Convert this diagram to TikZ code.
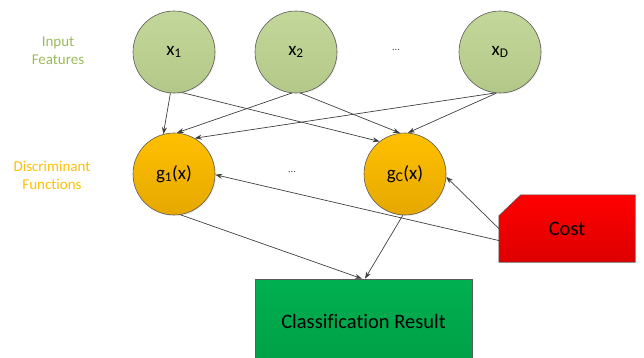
\documentclass[tikz,border=0pt]{standalone}
\usepackage{fontspec}
\setmainfont{Carlito}[Ligatures=NoCommon]
\usepackage{xcolor}
\usetikzlibrary{arrows.meta,backgrounds,shadows}
\definecolor{feat}{HTML}{C4D79B}
\definecolor{featdk}{HTML}{B3C888}
\definecolor{featlbl}{HTML}{9BBB59}
\definecolor{disc}{HTML}{FFC000}
\definecolor{discdk}{HTML}{E6A800}
\definecolor{costc}{HTML}{FF0000}
\definecolor{costdk}{HTML}{DD0000}
\definecolor{resc}{HTML}{00B050}
\definecolor{resdk}{HTML}{00A046}
\definecolor{edge}{HTML}{5A5A5A}
\definecolor{wire}{HTML}{404040}

\begin{document}
\begin{tikzpicture}[
  x=1pt,y=-1pt,
  feature/.style={circle,draw=edge,line width=0.6pt,minimum size=82pt,inner sep=0pt,
                  top color=feat,bottom color=featdk,font=\fontsize{19}{22}\selectfont,
                  drop shadow={opacity=0.12,shadow xshift=1.2pt,shadow yshift=-1.2pt}},
  discfn/.style={feature,top color=disc,bottom color=discdk},
  lbl/.style={align=center,font=\fontsize{15}{18}\selectfont},
  dotsl/.style={text=wire,font=\fontsize{10}{12}\selectfont},
  ar/.style={-{Stealth[length=7pt,width=5pt]},draw=wire,line width=0.7pt}
]
\useasboundingbox (0,0) rectangle (644,358);

\node[lbl,text=featlbl] (lin) at (58,51) {Input\\Features};
\node[lbl,text=disc] (ldis) at (52,175) {Discriminant\\Functions};

\node[feature] (x1) at (174,52) {x\textsubscript{1}};
\node[feature] (x2) at (296,52) {x\textsubscript{2}};
\node[dotsl] (dx) at (396,50) {...};
\node[feature] (xd) at (500,52) {x\textsubscript{D}};

\node[discfn] (g1) at (174,174) {g\textsubscript{1}(x)};
\node[dotsl] (dg) at (292,172) {...};
\node[discfn] (gc) at (405,174) {g\textsubscript{C}(x)};

\node[minimum width=136pt,minimum height=67pt,inner sep=0pt,
      font=\fontsize{20.5}{24}\selectfont] (cost) at (567,228.5) {Cost};
\begin{scope}[on background layer]
\draw[draw=edge,line width=0.6pt,top color=costc,bottom color=costdk]
  ([yshift=-21pt]cost.north west) -- ([xshift=22pt]cost.north west)
  -- (cost.north east) -- (cost.south east) -- (cost.south west) -- cycle;
\end{scope}

\node[draw=edge,line width=0.6pt,top color=resc,bottom color=resdk,
      minimum width=217pt,minimum height=84pt,inner sep=0pt,
      font=\fontsize{20.5}{24}\selectfont] (res) at (363.5,321) {Classification Result};

% inputs to discriminant functions
\draw[ar] (x1.265) -- (g1.105);
\draw[ar] (x1.281) -- (gc.128);
\draw[ar] (x2.264) -- (g1.86);
\draw[ar] (x2.276) -- (gc.97);
\draw[ar] (xd.263) -- (g1.60);
\draw[ar] (xd.265) -- (gc.86);

% cost
\draw[ar] (cost.190) -- (g1.-1);
\draw[ar] (cost.west) -- (gc.-4);

% to result
\draw[ar] (g1.279) -- ([xshift=-1.5pt]res.north);
\draw[ar] (gc.267) -- ([xshift=1.5pt]res.north);
\end{tikzpicture}
\end{document}
